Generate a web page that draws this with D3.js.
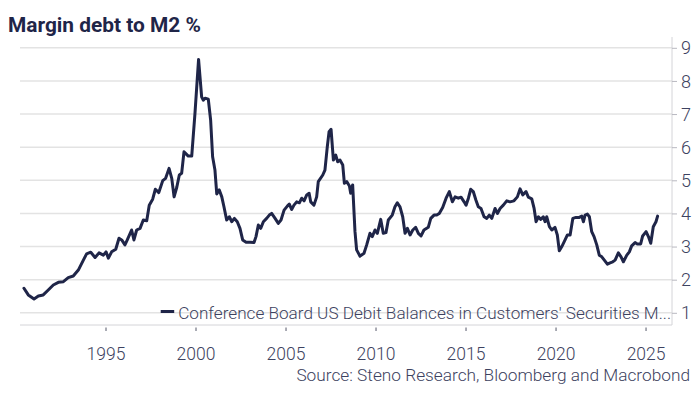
<!DOCTYPE html>
<html lang="en">
<head>
    <meta charset="UTF-8">
    <title>Margin debt to M2 %</title>
    <script src="https://cdn.jsdelivr.net/npm/d3@7"></script>
    <style>
        body{
            margin: 0;
            background: #ffffff;
        }
        text{
            font-family: Roboto, "Noto Sans", sans-serif;
        }
        .grid line{
            stroke: #e3e3e3;
            stroke-width: 1.5;
        }
        .tick text{
            fill: #3d4260;
            font-weight: 300;
        }
    </style>
</head>
<body>

<svg id="chart" width="700" height="400"></svg>

<script>
    // decimal year of each reading
    let years = [
        1990.47, 1990.71, 1991.03, 1991.27, 1991.54, 1991.82, 1992.10, 1992.38, 1992.66, 1992.93,
        1993.21, 1993.49, 1993.77, 1993.95, 1994.18, 1994.42, 1994.64, 1994.88, 1995.03, 1995.16,
        1995.34, 1995.57, 1995.75, 1995.90, 1996.08, 1996.21, 1996.45, 1996.58, 1996.73, 1996.92,
        1997.10, 1997.29, 1997.43, 1997.62, 1997.77, 1997.96, 1998.18, 1998.34, 1998.53, 1998.68,
        1998.81, 1998.96, 1999.10, 1999.23, 1999.36, 1999.60, 1999.79, 1999.97, 2000.17, 2000.34,
        2000.43, 2000.53, 2000.71, 2000.84, 2000.95, 2001.08, 2001.18, 2001.32, 2001.46, 2001.58,
        2001.73, 2001.88, 2002.01, 2002.16, 2002.32, 2002.47, 2002.62, 2002.81, 2003.03, 2003.25,
        2003.36, 2003.49, 2003.62, 2003.77, 2003.95, 2004.10, 2004.23, 2004.42, 2004.60, 2004.75,
        2004.92, 2005.10, 2005.21, 2005.34, 2005.47, 2005.62, 2005.77, 2005.90, 2006.03, 2006.18,
        2006.31, 2006.40, 2006.58, 2006.73, 2006.82, 2007.07, 2007.19, 2007.32, 2007.42, 2007.53,
        2007.66, 2007.79, 2007.90, 2008.03, 2008.18, 2008.27, 2008.40, 2008.55, 2008.62, 2008.73,
        2008.86, 2008.95, 2009.14, 2009.36, 2009.51, 2009.69, 2009.82, 2009.97, 2010.10, 2010.29,
        2010.43, 2010.58, 2010.71, 2010.93, 2011.08, 2011.21, 2011.36, 2011.51, 2011.64, 2011.77,
        2011.92, 2012.07, 2012.23, 2012.38, 2012.53, 2012.69, 2012.93, 2013.07, 2013.25, 2013.40,
        2013.54, 2013.73, 2013.92, 2014.10, 2014.27, 2014.42, 2014.60, 2014.75, 2014.92, 2015.03,
        2015.16, 2015.29, 2015.43, 2015.58, 2015.71, 2015.86, 2016.03, 2016.18, 2016.32, 2016.46,
        2016.64, 2016.77, 2016.92, 2017.10, 2017.29, 2017.47, 2017.69, 2017.88, 2018.03, 2018.18,
        2018.36, 2018.49, 2018.68, 2018.81, 2018.92, 2019.05, 2019.18, 2019.32, 2019.42, 2019.51,
        2019.66, 2019.79, 2019.97, 2020.10, 2020.21, 2020.35, 2020.53, 2020.66, 2020.81, 2020.96,
        2021.14, 2021.32, 2021.46, 2021.55, 2021.64, 2021.77, 2021.88, 2022.01, 2022.14, 2022.29,
        2022.43, 2022.57, 2022.71, 2022.88, 2023.03, 2023.18, 2023.31, 2023.49, 2023.64, 2023.77,
        2023.96, 2024.10, 2024.23, 2024.42, 2024.54, 2024.73, 2024.84, 2025.03, 2025.16, 2025.29,
        2025.43, 2025.58, 2025.67
    ];
    // margin debt as % of M2
    let values = [
        1.74, 1.54, 1.42, 1.51, 1.54, 1.69, 1.84, 1.92, 1.94, 2.06,
        2.11, 2.29, 2.59, 2.78, 2.83, 2.67, 2.81, 2.74, 2.84, 2.65,
        2.84, 2.92, 3.25, 3.20, 3.05, 3.20, 3.50, 3.20, 3.50, 3.55,
        3.80, 3.78, 4.25, 4.43, 4.73, 4.63, 4.99, 5.06, 5.36, 5.06,
        4.50, 4.79, 5.16, 5.21, 5.86, 5.73, 5.73, 7.02, 8.65, 7.52,
        7.42, 7.48, 7.45, 6.82, 5.71, 5.31, 4.59, 4.71, 4.50, 4.20,
        3.80, 3.90, 3.75, 3.85, 3.75, 3.55, 3.20, 3.13, 3.13, 3.12,
        3.30, 3.65, 3.55, 3.75, 3.85, 3.95, 4.00, 3.85, 3.70, 3.80,
        4.10, 4.22, 4.28, 4.12, 4.25, 4.35, 4.32, 4.46, 4.38, 4.56,
        4.61, 4.35, 4.25, 4.50, 4.96, 5.16, 5.31, 6.01, 6.47, 6.54,
        5.61, 5.76, 5.56, 5.61, 5.46, 4.91, 4.96, 4.83, 4.61, 4.86,
        3.45, 2.90, 2.71, 2.80, 3.05, 3.40, 3.30, 3.50, 3.40, 3.82,
        3.40, 3.42, 3.80, 3.95, 4.20, 4.32, 4.20, 3.90, 3.40, 3.55,
        3.35, 3.50, 3.58, 3.40, 3.32, 3.50, 3.58, 3.85, 3.95, 3.95,
        4.00, 4.18, 4.46, 4.66, 4.35, 4.50, 4.46, 4.49, 4.35, 4.25,
        4.46, 4.73, 4.66, 4.40, 4.20, 4.15, 3.90, 3.85, 3.95, 3.85,
        4.15, 4.00, 4.15, 4.25, 4.38, 4.35, 4.38, 4.50, 4.74, 4.56,
        4.66, 4.49, 4.44, 4.15, 3.75, 3.90, 3.82, 3.90, 3.75, 3.90,
        3.60, 3.50, 3.58, 3.35, 2.87, 3.00, 3.20, 3.35, 3.35, 3.85,
        3.88, 3.88, 3.92, 3.75, 3.95, 3.98, 3.90, 3.45, 3.30, 3.05,
        2.74, 2.69, 2.59, 2.47, 2.51, 2.54, 2.59, 2.81, 2.69, 2.54,
        2.74, 2.84, 3.02, 3.12, 3.08, 3.08, 3.32, 3.45, 3.30, 3.10,
        3.60, 3.75, 3.92
    ];
    let xTicks = [1995, 2000, 2005, 2010, 2015, 2020, 2025];
    let yTicks = [1, 2, 3, 4, 5, 6, 7, 8, 9];

    let titleText = "Margin debt to M2 %";
    let seriesName = "Conference Board US Debit Balances in Customers' Securities M...";
    let sourceText = "Source: Steno Research, Bloomberg and Macrobond";

    const navy = "#1f2548";
    const plotLeft = 20, plotRight = 672, plotTop = 37, plotBottom = 325;

    let svg = d3.select("#chart");

    let x = d3.scaleLinear().domain([1990.25, 2026.47]).range([plotLeft, plotRight]);
    let y = d3.scaleLinear().domain([0.632, 9.326]).range([plotBottom, plotTop]);

    // shrink or grow a text's font so it spans the given width
    function fitWidth(sel, width) {
        let fs = parseFloat(sel.attr("font-size"));
        let w = sel.node().getComputedTextLength();
        sel.attr("font-size", (fs * width / w).toFixed(2));
    }

    // horizontal gridlines
    svg.append("g")
        .attr("class", "grid")
        .selectAll("line")
        .data(yTicks)
        .join("line")
        .attr("x1", plotLeft)
        .attr("x2", plotRight)
        .attr("y1", d => y(d))
        .attr("y2", d => y(d));

    // right axis
    let yAxis = svg.append("g")
        .attr("transform", "translate(" + plotRight + ",0)")
        .call(d3.axisRight(y).tickValues(yTicks).tickSize(5).tickPadding(4).tickFormat(d3.format("d")));
    yAxis.select(".domain").attr("d", "M0," + plotTop + "V" + plotBottom).attr("stroke", "#d4d4d8");
    yAxis.selectAll(".tick line").attr("stroke", "#b8b8c0");
    yAxis.selectAll(".tick text").attr("font-size", 18).attr("dy", "0.34em");

    // bottom axis
    let xAxis = svg.append("g")
        .attr("transform", "translate(0," + plotBottom + ")")
        .call(d3.axisBottom(x).tickValues(xTicks).tickSize(0).tickPadding(0).tickFormat(d3.format("d")));
    xAxis.select(".domain").attr("d", "M" + plotLeft + ",0H" + plotRight).attr("stroke", "#d4d4d8");
    xAxis.selectAll(".tick line")
        .attr("y1", 2.5)
        .attr("y2", 6)
        .attr("stroke", "#55586a");
    xAxis.selectAll(".tick text")
        .attr("font-size", 17.5)
        .attr("y", 35)
        .attr("dy", 0);

    // the series
    let pts = d3.zip(years, values);
    svg.append("path")
        .datum(pts)
        .attr("fill", "none")
        .attr("stroke", navy)
        .attr("stroke-width", 3)
        .attr("stroke-linejoin", "round")
        .attr("stroke-linecap", "round")
        .attr("d", d3.line().x(d => x(d[0])).y(d => y(d[1])));

    // legend, right aligned to the plot edge
    let legText = svg.append("text")
        .attr("x", 671)
        .attr("y", 319)
        .attr("text-anchor", "end")
        .attr("font-size", 18)
        .attr("font-weight", 300)
        .attr("fill", "#3d4260")
        .text(seriesName);
    fitWidth(legText, 493);
    let legStart = legText.node().getBBox().x;
    svg.append("line")
        .attr("x1", legStart - 17.5)
        .attr("x2", legStart - 4)
        .attr("y1", 311.5)
        .attr("y2", 311.5)
        .attr("stroke", navy)
        .attr("stroke-width", 3);

    // title
    let title = svg.append("text")
        .attr("x", 8)
        .attr("y", 31.5)
        .attr("font-size", 21)
        .attr("font-weight", 700)
        .attr("fill", navy)
        .text(titleText);
    fitWidth(title, 193);

    // source note
    let source = svg.append("text")
        .attr("x", 690)
        .attr("y", 381)
        .attr("text-anchor", "end")
        .attr("font-size", 17)
        .attr("font-weight", 300)
        .attr("fill", "#3d4260")
        .text(sourceText);
    fitWidth(source, 394);
</script>

</body>
</html>
